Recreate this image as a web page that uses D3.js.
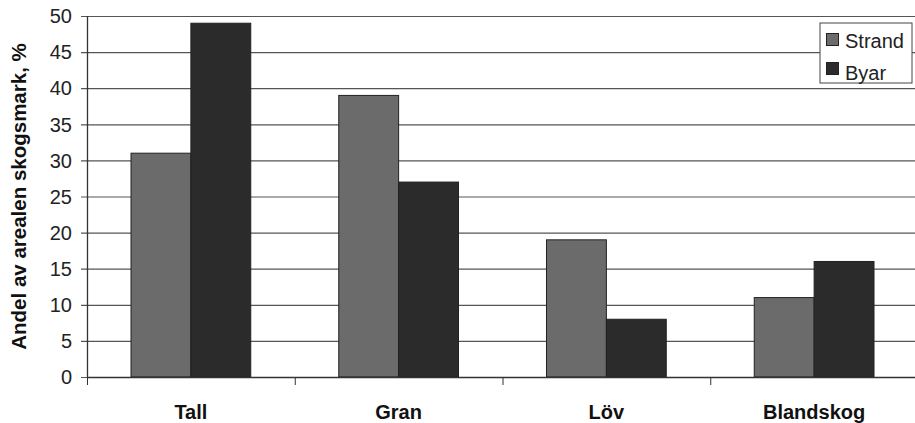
<!DOCTYPE html>
<html>
<head>
<meta charset="utf-8">
<script src="https://cdn.jsdelivr.net/npm/d3@7"></script>
<style>
body { margin: 0; background: #fff; }
svg { display: block; font-family: "Liberation Sans", Arial, sans-serif; }
</style>
</head>
<body>
<div id="chart"></div>
<script>
var categories = ["Tall", "Gran", "Löv", "Blandskog"];
var seriesNames = ["Strand", "Byar"];
var strand = [31, 39, 19, 11];
var byar = [49, 27, 8, 16];
var yTicks = [0, 5, 10, 15, 20, 25, 30, 35, 40, 45, 50];
var colors = ["#6b6b6b", "#2b2b2b"];

var W = 915, H = 423;
var margin = {top: 16, right: -3, bottom: 46, left: 87};
var width = W - margin.left - margin.right,
	height = H - margin.top - margin.bottom;

var svg = d3.select("#chart").append("svg")
	.attr("width", W)
	.attr("height", H);

var g = svg.append("g")
	.attr("transform", "translate(" + margin.left + "," + margin.top + ")");

var x0 = d3.scaleBand().domain(categories).range([0, width]).paddingInner(0).paddingOuter(0);
var x1 = d3.scaleBand().domain(seriesNames).range([44, x0.bandwidth() - 44]);
var y = d3.scaleLinear().domain([0, 50]).range([height, 0]);

// gridlines
g.append("g").selectAll("line")
	.data(yTicks)
	.enter().append("line")
	.attr("x1", -6).attr("x2", width)
	.attr("y1", function (d) { return y(d) + 0.5; })
	.attr("y2", function (d) { return y(d) + 0.5; })
	.attr("stroke", "#555")
	.attr("stroke-width", 1.2);

// y labels
g.append("g").selectAll("text")
	.data(yTicks)
	.enter().append("text")
	.attr("x", -15)
	.attr("y", function (d) { return y(d); })
	.attr("dy", "0.36em")
	.attr("text-anchor", "end")
	.attr("font-size", 20)
	.attr("fill", "#222")
	.text(function (d) { return d; });

var data = categories.map(function (c, i) {
	return {cat: c, vals: [{s: "Strand", v: strand[i]}, {s: "Byar", v: byar[i]}]};
});

var groups = g.selectAll(".grp")
	.data(data)
	.enter().append("g")
	.attr("transform", function (d) { return "translate(" + x0(d.cat) + ",0)"; });

groups.selectAll("rect")
	.data(function (d) { return d.vals; })
	.enter().append("rect")
	.attr("x", function (d) { return x1(d.s); })
	.attr("y", function (d) { return y(d.v); })
	.attr("width", x1.bandwidth())
	.attr("height", function (d) { return height - y(d.v); })
	.attr("fill", function (d, i) { return colors[i]; })
	.attr("stroke", "#222")
	.attr("stroke-width", 1);

// axes lines
g.append("line")
	.attr("x1", 0.5).attr("x2", 0.5)
	.attr("y1", 0).attr("y2", height)
	.attr("stroke", "#333").attr("stroke-width", 1.3);
g.append("line")
	.attr("x1", 0).attr("x2", width)
	.attr("y1", height + 0.5).attr("y2", height + 0.5)
	.attr("stroke", "#333").attr("stroke-width", 1.3);

// x ticks at category boundaries
g.append("g").selectAll("line")
	.data(categories)
	.enter().append("line")
	.attr("x1", function (d) { return x0(d) + 0.5; })
	.attr("x2", function (d) { return x0(d) + 0.5; })
	.attr("y1", height).attr("y2", height + 8)
	.attr("stroke", "#333");

// category labels
g.append("g").selectAll("text")
	.data(categories)
	.enter().append("text")
	.attr("x", function (d) { return x0(d) + x0.bandwidth() / 2; })
	.attr("y", height + 42)
	.attr("text-anchor", "middle")
	.attr("font-size", 20)
	.attr("font-weight", "bold")
	.attr("fill", "#111")
	.text(function (d) { return d; });

// y title
svg.append("text")
	.attr("transform", "translate(26," + (margin.top + height / 2) + ") rotate(-90)")
	.attr("text-anchor", "middle")
	.attr("font-size", 20.5)
	.attr("font-weight", "bold")
	.attr("fill", "#111")
	.text("Andel av arealen skogsmark, %");

// legend
var lg = svg.append("g").attr("transform", "translate(820,23)");
lg.append("rect")
	.attr("width", 92).attr("height", 60)
	.attr("fill", "#fff")
	.attr("stroke", "#444").attr("stroke-width", 1);
seriesNames.forEach(function (s, i) {
	lg.append("rect")
		.attr("x", 6.5).attr("y", 10.5 + i * 29)
		.attr("width", 12).attr("height", 12)
		.attr("fill", colors[i])
		.attr("stroke", "#222");
	lg.append("text")
		.attr("x", 25).attr("y", 25 + i * 32)
		.attr("font-size", 20)
		.attr("fill", "#222")
		.text(s);
});
</script>
</body>
</html>
